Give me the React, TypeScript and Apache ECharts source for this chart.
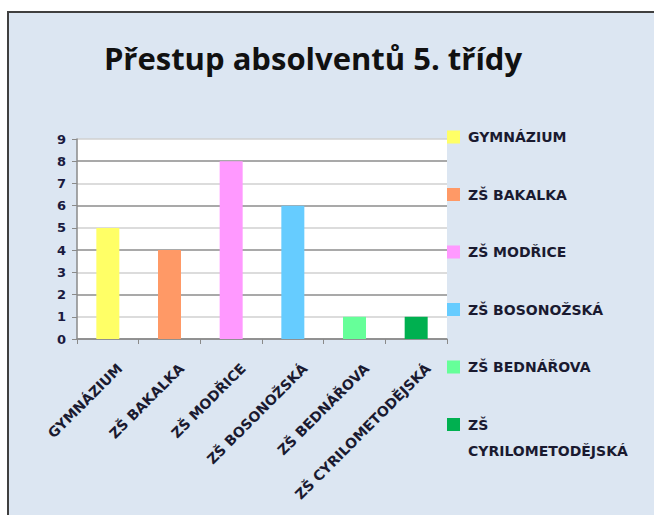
import React, { useEffect, useRef } from "react";
import * as echarts from "echarts";

const categories = [
  "GYMNÁZIUM",
  "ZŠ BAKALKA",
  "ZŠ MODŘICE",
  "ZŠ BOSONOŽSKÁ",
  "ZŠ BEDNÁŘOVA",
  "ZŠ CYRILOMETODĚJSKÁ",
];
const values = [5, 4, 8, 6, 1, 1];
const colors = ["#ffff66", "#ff9966", "#ff99ff", "#66ccff", "#66ff99", "#00b050"];
const yTicks = [0, 1, 2, 3, 4, 5, 6, 7, 8, 9];
const titleText = "Přestup absolventů 5. třídy";
const wrappedLegendFirst = "ZŠ";
const wrappedLegendSecond = "CYRILOMETODĚJSKÁ";

export default function App() {
  const ref = useRef<HTMLDivElement>(null);
  useEffect(() => {
    if (!ref.current) return;
    const chart = echarts.init(ref.current, null, { renderer: "svg" });
    const series = categories.map((name, i) => ({
      name,
      type: "bar",
      stack: "all",
      barWidth: 23,
      itemStyle: { color: colors[i] },
      data: values.map((v, j) => (j === i ? v : "-")),
    }));
    const legendFont = {
      fontFamily: "DejaVu Sans",
      fontWeight: "bold",
      fontSize: 14,
      color: "#1a1a30",
    };
    chart.setOption({
      animation: false,
      backgroundColor: "#ffffff",
      textStyle: { fontFamily: "DejaVu Sans" },
      graphic: [
        {
          type: "rect",
          z: -100,
          silent: true,
          shape: { x: 8, y: 12, width: 700, height: 560 },
          style: { fill: "#dce6f2", stroke: "#404040", lineWidth: 2 },
        },
        {
          type: "text",
          x: 468,
          y: 451,
          silent: true,
          style: {
            text: wrappedLegendSecond,
            ...legendFont,
            fill: legendFont.color,
            verticalAlign: "middle",
            align: "left",
          },
        },
      ],
      title: {
        text: titleText,
        left: 313,
        textAlign: "center",
        top: 42,
        padding: 0,
        textStyle: {
          fontFamily: "Open Sans",
          fontWeight: "bold",
          fontSize: 31,
          color: "#111111",
        },
      },
      legend: {
        orient: "vertical",
        left: 447,
        top: 129,
        padding: 0,
        itemWidth: 13,
        itemHeight: 13,
        itemGap: 41.5,
        icon: "rect",
        textStyle: {
          ...legendFont,
          lineHeight: 16,
          padding: [0, 0, 0, 3],
        },
        data: categories.map((name) => ({ name })),
        formatter: (name: string) =>
          name === categories[categories.length - 1] ? wrappedLegendFirst : name,
      },
      grid: {
        left: 77,
        right: 207,
        top: 139,
        bottom: 176,
        show: true,
        backgroundColor: "#ffffff",
        borderWidth: 0,
      },
      xAxis: {
        type: "category",
        data: categories,
        axisLine: { show: true, lineStyle: { color: "#8a8a8a", width: 1.5 } },
        axisTick: { show: true, alignWithLabel: false, length: 5, lineStyle: { color: "#8a8a8a" } },
        axisLabel: {
          interval: 0,
          rotate: 45,
          margin: 15,
          verticalAlign: "top",
          padding: [10, 0, 0, 0],
          fontSize: 14,
          fontWeight: "bold",
          fontFamily: "DejaVu Sans",
          color: "#1a1a30",
        },
      },
      yAxis: {
        type: "value",
        min: yTicks[0],
        max: yTicks[yTicks.length - 1],
        interval: 1,
        axisLine: { show: true, lineStyle: { color: "#8a8a8a", width: 1.5 } },
        axisTick: { show: true, length: 5, lineStyle: { color: "#8a8a8a" } },
        axisLabel: {
          margin: 11,
          fontSize: 13,
          fontWeight: "bold",
          fontFamily: "DejaVu Sans",
          color: "#1a1a40",
        },
        splitLine: {
          show: true,
          lineStyle: { color: ["#8c8c8c", "#d0d0d0"], width: 1.5 },
        },
      },
      series,
    });
    return () => chart.dispose();
  }, []);
  return (
    <div
      ref={ref}
      style={{ position: "fixed", left: 0, top: 0, width: 654, height: 515 }}
    />
  );
}
